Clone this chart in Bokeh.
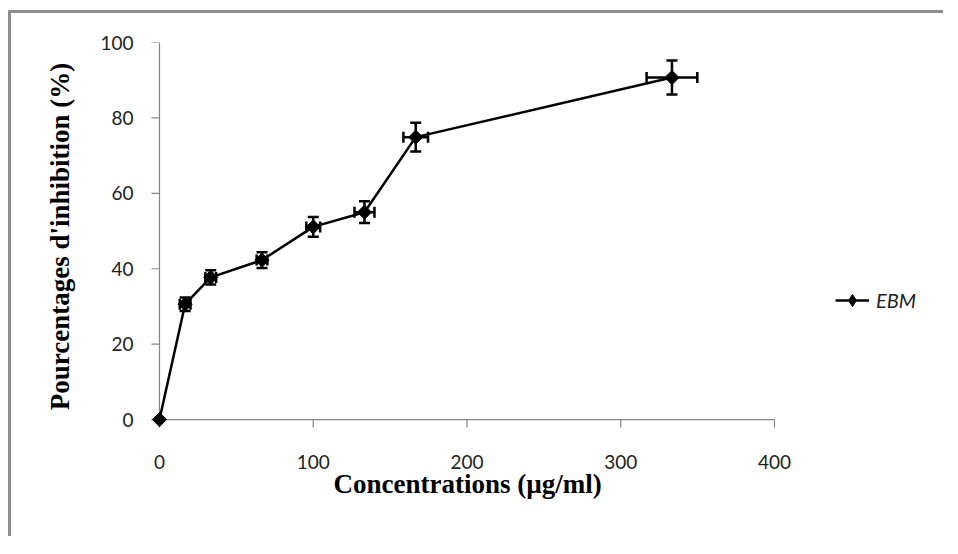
import math
from bokeh.plotting import figure
from bokeh.models import (Range1d, Whisker, TeeHead, ColumnDataSource, Legend,
                          LegendItem, FixedTicker, Title)
from bokeh.embed import file_html
from bokeh.resources import INLINE

# ---- data ----
conc = [0, 16.67, 33.33, 66.67, 100, 133.33, 166.67, 333.33]
inhib = [0, 30.6, 37.7, 42.3, 51.1, 55.0, 74.9, 90.7]
conc_err = [0, 3.5, 3.5, 3.5, 4.5, 6.5, 8.0, 16.5]
inhib_err = [0, 1.8, 1.9, 2.1, 2.6, 2.9, 3.8, 4.5]
x_ticks = [0, 100, 200, 300, 400]
y_ticks = [0, 20, 40, 60, 80, 100]
series_name = "EBM"
x_title = "Concentrations (µg/ml)"
y_title = "Pourcentages d'inhibition (%)"

src = ColumnDataSource(dict(x=conc, y=inhib))
idx = [i for i in range(len(conc)) if inhib_err[i] > 0]
err_src = ColumnDataSource(dict(
    x=[conc[i] for i in idx],
    y=[inhib[i] for i in idx],
    ylo=[inhib[i] - inhib_err[i] for i in idx],
    yhi=[inhib[i] + inhib_err[i] for i in idx],
    xlo=[conc[i] - conc_err[i] for i in idx],
    xhi=[conc[i] + conc_err[i] for i in idx],
))

# frame is padded a little left/below the zero lines so the corner marker is not clipped,
# and extends to the right to hold the legend; the visible axes end at the tick range.
p = figure(width=935, height=526, output_backend="svg", toolbar_location=None,
           x_range=Range1d(-7.8, 501.5), y_range=Range1d(-2.9, 100),
           min_border_left=136, min_border_right=16, min_border_top=29,
           min_border_bottom=109)
p.styles = {"margin-left": "11px", "margin-top": "13px",
            "box-shadow": "-3px -3px 0px 0px #8e8e8e"}
p.outline_line_color = None
p.xgrid.visible = False
p.ygrid.visible = False
p.background_fill_color = "white"
p.border_fill_color = "white"

AX = "#868686"
for ax in (p.xaxis[0], p.yaxis[0]):
    ax.axis_line_color = None
    ax.major_tick_line_color = None
    ax.minor_tick_line_color = None
    ax.major_tick_out = 0
    ax.major_tick_in = 0
    ax.major_label_text_font = "Lato"
    ax.major_label_text_font_size = "19px"
    ax.major_label_text_color = "#222222"

p.xaxis.ticker = FixedTicker(ticks=x_ticks)
p.yaxis.ticker = FixedTicker(ticks=y_ticks)
p.xaxis.major_label_standoff = 24
p.yaxis.major_label_standoff = 14

p.yaxis.axis_label = y_title
p.yaxis.axis_label_text_font = "Liberation Serif"
p.yaxis.axis_label_text_font_style = "bold"
p.yaxis.axis_label_text_color = "#000000"
p.yaxis.axis_label_text_font_size = "27px"
p.yaxis.axis_label_standoff = 22

# x-axis title placed under the drawn axis (the frame extends further right)
p.add_layout(Title(text=x_title, align="left", offset=186, standoff=-9,
                   text_font="Liberation Serif", text_font_style="bold",
                   text_font_size="27px", text_color="#000000"), "below")

# visible axis lines and outward ticks at the zero lines
p.segment(x0=[x_ticks[0], x_ticks[0]], y0=[y_ticks[0], y_ticks[0]],
          x1=[x_ticks[-1], x_ticks[0]], y1=[y_ticks[0], y_ticks[-1]],
          line_color=AX, line_width=1.2)
p.ray(x=x_ticks, y=[y_ticks[0]] * len(x_ticks), length=8, length_units="screen",
      angle=-math.pi / 2, line_color=AX, line_width=1.2)
p.ray(x=[x_ticks[0]] * len(y_ticks), y=y_ticks, length=8, length_units="screen",
      angle=math.pi, line_color=AX, line_width=1.2)

# error bars
def tee():
    return TeeHead(size=11, line_width=2.5, line_color="black")

p.add_layout(Whisker(source=err_src, base="x", lower="ylo", upper="yhi",
                     dimension="height", line_color="black", line_width=2.5,
                     upper_head=tee(), lower_head=tee()))
p.add_layout(Whisker(source=err_src, base="y", lower="xlo", upper="xhi",
                     dimension="width", line_color="black", line_width=2.5,
                     upper_head=tee(), lower_head=tee()))

ln = p.line("x", "y", source=src, line_color="black", line_width=2.5)
mk = p.scatter("x", "y", source=src, marker="square", size=10, angle=math.pi / 4,
               fill_color="black", line_color="black", line_width=1)
# legend-only diamond glyph (a single undefined point, never drawn on the plot)
nan = float("nan")
lg = p.scatter(x=[nan], y=[nan], marker="diamond", fill_color="black",
               line_color="black", line_width=1)

legend = Legend(items=[LegendItem(label=series_name, renderers=[ln, lg])],
                location=(688, 115), glyph_width=34, glyph_height=30,
                label_standoff=7, padding=0, margin=0, spacing=0,
                border_line_color=None, background_fill_alpha=0,
                label_text_font="Lato", label_text_font_style="italic",
                label_text_font_size="20px", label_text_color="#222222")
p.add_layout(legend)

open("out.html", "w").write(file_html(p, INLINE))
